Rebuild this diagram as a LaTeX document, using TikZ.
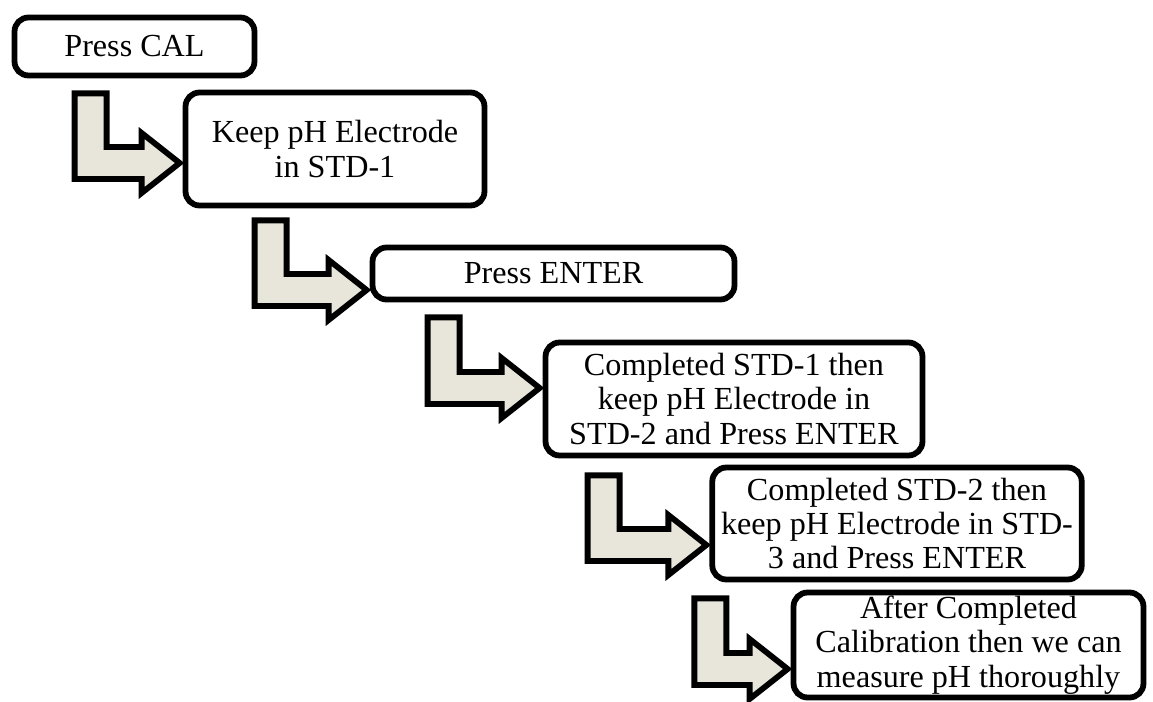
\documentclass[tikz,border=0pt]{standalone}
\usepackage{fontspec}
\setmainfont{Liberation Serif}
\definecolor{bendfill}{HTML}{E8E5DA}

\begin{document}
\begin{tikzpicture}[x=0.02cm, y=-0.02cm,
  stepbox/.style={draw, line width=3.3pt, rounded corners=0.28cm, fill=white,
    inner sep=0pt, align=center, font=\fontsize{18.3}{19.5}\selectfont},
  lbend/.style={draw, line width=3.3pt, fill=bendfill, line join=miter}]
\useasboundingbox (0,0) rectangle (1153,702);
% steps
\node[stepbox, minimum width=4.8cm, minimum height=1.16cm] (cal) at (134.5,46.5) {Press CAL};
\node[stepbox, minimum width=5.98cm, minimum height=2.26cm] (keep) at (335,149) {Keep pH Electrode\\in STD-1};
\node[stepbox, minimum width=7.24cm, minimum height=1.04cm] (enter) at (553.5,273.5) {Press ENTER};
\node[stepbox, minimum width=7.54cm, minimum height=2.26cm] (std1) at (734,399) {Completed STD-1 then\\keep pH Electrode in\\STD-2 and Press ENTER};
\node[stepbox, minimum width=7.39cm, minimum height=2.24cm] (std2) at (897,523.5) {Completed STD-2 then\\keep pH Electrode in STD-\\3 and Press ENTER};
\node[stepbox, minimum width=7.0cm, minimum height=2.1cm] (done) at (968.5,645) {After Completed\\Calibration then we can\\measure pH thoroughly};
% bent arrows
\foreach \a/\b/\sx/\sy/\ty in {cal/keep/63/15/14, keep/enter/72/12/16.5, enter/std1/58/15/-11,
    std1/std2/45/17/21.5, std2/done/-15/16/24}{
  \path (\a.south west) ++(\sx,\sy) coordinate (s) ++(32,0) coordinate (s2);
  \path (\b.west) ++(-3,\ty) coordinate (t) ++(-38,-16) coordinate (h1) ++(0,-14) coordinate (h2);
  \path (t) ++(-38,16) coordinate (h3) ++(0,14) coordinate (h4);
  \draw[lbend] (s) -- (s2) -- (h1 -| s2) -- (h1) -- (h2) -- (t) -- (h4) -- (h3) -- (h3 -| s) -- cycle;
}
\end{tikzpicture}
\end{document}
